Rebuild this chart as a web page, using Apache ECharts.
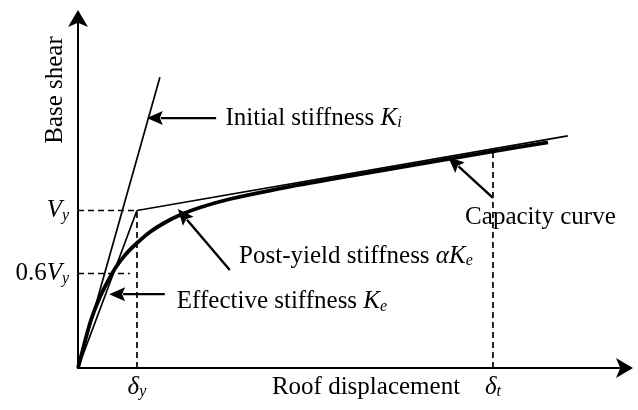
<!DOCTYPE html>
<html>
<head>
<meta charset="utf-8">
<script src="https://cdn.jsdelivr.net/npm/echarts@6/dist/echarts.min.js"></script>
<style>
  html, body { margin: 0; padding: 0; background: #fff; }
  #chart { width: 638px; height: 410px; }
</style>
</head>
<body>
<div id="chart"></div>
<script>
// Idealised pushover capacity curve (base shear vs roof displacement)
// with its bilinear idealisation.

const yieldDisp = 10.8;     // δy
const targetDisp = 76.0;    // δt
const yieldShear = 45;      // Vy
const effShearRatio = 0.6;  // 0.6 Vy

// Capacity curve read as displacement / base-shear pairs
const capacityDisp  = [0, 1.10, 2.38, 4.03, 5.49, 6.96, 8.79, 10.81, 13.19, 15.93, 18.68, 22.34, 27.84, 35.16, 46.15, 58.97, 76.0, 86.08];
const capacityShear = [0, 6.57, 13.71, 20.29, 24.86, 28.86, 32.57, 35.71, 38.86, 41.57, 43.71, 45.86, 48.29, 50.71, 53.86, 57.29, 61.86, 64.49];

// Straight stiffness lines
const initialLine   = [[0, 0], [15.0, 83.1]];
const effectiveLine = [[0, 0], [yieldDisp, yieldShear]];
const postYieldLine = [[yieldDisp, yieldShear], [89.7, 66.3]];

// Axis tick values and their labels
const xTickValues = [yieldDisp, targetDisp];
const xTickLabels = ['{g|δ}{s|y}', '{g|δ}{s|t}'];
const yTickValues = [effShearRatio * yieldShear, yieldShear];
const yTickLabels = ['0.6{g|V}{s|y}', '{g|V}{s|y}'];

// Callout texts, where they sit, and the arrows pointing from them
const noteTexts  = ['Initial stiffness {k|K}{s|i}', 'Capacity curve',
                    'Post-yield stiffness {k|αK}{s|e}', 'Effective stiffness {k|K}{s|e}'];
const noteAt     = [[27.0, 71.4], [70.9, 43.1], [29.5, 32.0], [18.1, 18.9]];
const arrowStart = [[25.3, 71.4], [76.0, 48.6], [27.8, 28.0], [15.9, 21.1]];
const arrowEnd   = [[12.6, 71.4], [67.8, 60.3], [18.3, 45.4], [5.7, 21.1]];

const serif = 'Liberation Serif, Times New Roman, serif';
const capacityPoints = capacityDisp.map((d, i) => [d, capacityShear[i]]);
const shearAtTarget = capacityShear[capacityDisp.indexOf(targetDisp)];

const richStyles = {
  g: { fontFamily: serif, fontSize: 25, fontStyle: 'italic', color: '#000' },
  k: { fontFamily: serif, fontSize: 25, fontStyle: 'italic', color: '#000' },
  s: { fontFamily: serif, fontSize: 16, fontStyle: 'italic', color: '#000', padding: [10, 0, 0, 0] }
};

function pickLabel(values, labels, v) {
  let best = 0;
  values.forEach((t, i) => { if (Math.abs(t - v) < Math.abs(values[best] - v)) best = i; });
  return labels[best];
}

function dashed(points) {
  return {
    type: 'line', data: points, showSymbol: false, silent: true, z: 2,
    lineStyle: { color: '#000', width: 1.7, type: [6, 4] }
  };
}
function solid(points, width, smooth) {
  return {
    type: 'line', data: points, showSymbol: false, silent: true, z: 3,
    smooth: smooth || false,
    lineStyle: { color: '#000', width: width }
  };
}

const chart = echarts.init(document.getElementById('chart'), null, { renderer: 'canvas' });

chart.setOption({
  animation: false,
  backgroundColor: '#fff',
  grid: { left: 78, top: 18, width: 546, height: 350 },
  xAxis: {
    type: 'value', min: 0, max: 100,
    splitLine: { show: false },
    axisTick: { show: false },
    axisLine: { show: true, lineStyle: { color: '#000', width: 2 },
                symbol: ['none', 'arrow'], symbolSize: [15, 17], symbolOffset: [0, 9] },
    axisLabel: {
      customValues: xTickValues, margin: 6,
      formatter: v => pickLabel(xTickValues, xTickLabels, v),
      rich: richStyles
    }
  },
  yAxis: {
    type: 'value', min: 0, max: 100,
    splitLine: { show: false },
    axisTick: { show: false },
    axisLine: { show: true, lineStyle: { color: '#000', width: 2 },
                symbol: ['none', 'arrow'], symbolSize: [15, 17], symbolOffset: [0, 8] },
    axisLabel: {
      customValues: yTickValues, margin: 9,
      formatter: v => pickLabel(yTickValues, yTickLabels, v),
      fontFamily: serif, fontSize: 25, color: '#000',
      rich: richStyles
    }
  },
  graphic: [
    { type: 'text', x: 55, y: 90, rotation: Math.PI / 2,
      style: { text: 'Base shear', font: '25px ' + serif, fill: '#000',
               textAlign: 'center', textVerticalAlign: 'middle' } },
    { type: 'text', x: 366, y: 387,
      style: { text: 'Roof displacement', font: '25px ' + serif, fill: '#000',
               textAlign: 'center', textVerticalAlign: 'middle' } }
  ],
  series: [
    dashed([[0, yieldShear], [yieldDisp, yieldShear]]),
    dashed([[0, effShearRatio * yieldShear], [9.5, effShearRatio * yieldShear]]),
    dashed([[yieldDisp, 0], [yieldDisp, yieldShear]]),
    dashed([[targetDisp, 0], [targetDisp, shearAtTarget]]),
    solid(initialLine, 1.7),
    solid(effectiveLine, 1.7),
    solid(postYieldLine, 1.7),
    solid(capacityPoints, 3.8, 0.3),
    {
      // callout arrows
      type: 'custom', silent: true, z: 5,
      data: arrowStart.map((p, i) => [p[0], p[1], arrowEnd[i][0], arrowEnd[i][1]]),
      renderItem: function (params, api) {
        const a = api.coord([api.value(0), api.value(1)]);
        const b = api.coord([api.value(2), api.value(3)]);
        const dx = b[0] - a[0], dy = b[1] - a[1];
        const len = Math.sqrt(dx * dx + dy * dy);
        const ux = dx / len, uy = dy / len;
        const headLen = 16, headHalf = 7;
        const bx = b[0] - ux * headLen, by = b[1] - uy * headLen;
        return {
          type: 'group',
          children: [
            { type: 'line', shape: { x1: a[0], y1: a[1], x2: bx + ux * 2, y2: by + uy * 2 },
              style: { stroke: '#000', lineWidth: 2.4 } },
            { type: 'polygon',
              shape: { points: [[b[0], b[1]],
                                [bx - uy * headHalf, by + ux * headHalf],
                                [bx + ux * 3, by + uy * 3],
                                [bx + uy * headHalf, by - ux * headHalf]] },
              style: { fill: '#000' } }
          ]
        };
      }
    },
    {
      // callout texts
      type: 'scatter', silent: true, z: 6, symbolSize: 0,
      itemStyle: { opacity: 1 },
      data: noteAt,
      label: {
        show: true, position: 'right', distance: 0, opacity: 1,
        formatter: p => noteTexts[p.dataIndex],
        fontFamily: serif, fontSize: 25, color: '#000',
        rich: richStyles
      }
    }
  ]
});
</script>
</body>
</html>
